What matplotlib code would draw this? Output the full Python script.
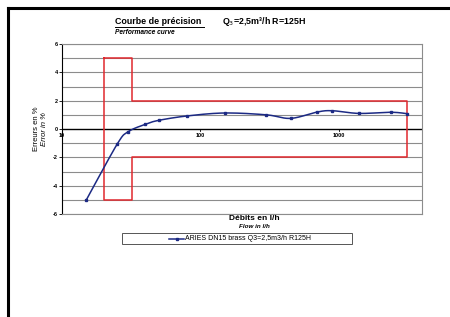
import numpy as np
import matplotlib
matplotlib.use("Agg")
import matplotlib.pyplot as plt
from matplotlib.lines import Line2D
from matplotlib.patches import Rectangle

plt.rcParams['font.family'] = ['Liberation Sans', 'DejaVu Sans']

# Data
flow = [15, 25, 30, 40, 50, 80, 150, 300, 450, 700, 900, 1400, 2400, 3125]
error = [-5.0, -1.08, -0.2, 0.33, 0.61, 0.92, 1.13, 1.0, 0.75, 1.2, 1.29, 1.1, 1.18, 1.08]
limit_x = [20, 32, 32, 3125, 3125, 32, 32, 20, 20]
limit_y = [5, 5, 2, 2, -2, -2, -5, -5, 5]
yticks = [-6, -4, -2, 0, 2, 4, 6]
xtick_vals = [10, 100, 1000]
series_label = "ARIES DN15 brass Q3=2,5m3/h R125H"

W, H = 450, 317
fig = plt.figure(figsize=(4.5, 3.17), dpi=100)

def fx(px):
    return px / W

def fy(py):
    return 1 - py / H

# outer frame
fig.add_artist(Line2D([fx(8), fx(8)], [0, fy(8)], transform=fig.transFigure, color='black', lw=2.2))
fig.add_artist(Line2D([fx(8), 1], [fy(8), fy(8)], transform=fig.transFigure, color='black', lw=2.2))

ax = fig.add_axes([fx(62), fy(214), 360 / W, 170 / H])
ax.set_xscale('log')
ax.set_xlim(10, 4000)
ax.set_ylim(-6, 6)

for y in range(-6, 7):
    if y != 0:
        ax.axhline(y, color='#8c8c8c', lw=0.8, zorder=1)
ax.axhline(0, color='black', lw=1.0, zorder=2)

for s in ax.spines.values():
    s.set_color('#8c8c8c')
    s.set_linewidth(0.8)
ax.spines['left'].set_color('black')

ax.set_yticks(yticks)
ax.set_yticklabels([str(v) for v in yticks], fontsize=4, fontweight='bold')
ax.tick_params(axis='y', length=2, width=0.6, pad=1)
ax.set_xticks([])
ax.xaxis.set_minor_locator(matplotlib.ticker.NullLocator())
for xv in xtick_vals:
    ax.plot([xv, xv], [0, -0.12], color='black', lw=0.6, zorder=3)
    ax.text(xv, -0.28, str(xv), ha='center', va='top', fontsize=4, fontweight='bold')

# limits
ax.plot(limit_x, limit_y, color='#e0282e', lw=1.1, zorder=4)

# smooth curve (Catmull-Rom computed in screen-proportional space)
sx = 138.0   # px per decade
sy = 170.0 / 12.0  # px per unit
P = np.column_stack([np.log10(flow) * sx, np.array(error) * sy])
P_ext = np.vstack([P[0], P, P[-1]])
curve = []
for i in range(1, len(P_ext) - 2):
    p0, p1, p2, p3 = P_ext[i - 1], P_ext[i], P_ext[i + 1], P_ext[i + 2]
    c1 = p1 + (p2 - p0) / 6.0
    c2 = p2 - (p3 - p1) / 6.0
    t = np.linspace(0, 1, 25)[:, None]
    seg = (1 - t)**3 * p1 + 3 * (1 - t)**2 * t * c1 + 3 * (1 - t) * t**2 * c2 + t**3 * p2
    curve.append(seg)
curve = np.vstack(curve)
ax.plot(10**(curve[:, 0] / sx), curve[:, 1] / sy, color='#1c2a84', lw=1.1, zorder=5)
ax.plot(flow, error, linestyle='none', marker='s', ms=1.8, color='#1c2a84', zorder=6)

# titles
fig.text(fx(115), fy(22), "Courbe de précision", fontsize=6.4, fontweight='bold', va='center', ha='left')
fig.add_artist(Line2D([fx(115), fx(204)], [fy(27), fy(27)], transform=fig.transFigure, color='black', lw=0.7))
fig.text(fx(222), fy(22), "Q$_3$=2,5m³/h R=125H", fontsize=6.4, fontweight='bold', va='center', ha='left')
fig.text(fx(115), fy(33), "Performance curve", fontsize=4.8, fontweight='bold', style='italic', va='center', ha='left')

fig.text(fx(36), fy(129), "Erreurs en %", fontsize=5.5, rotation=90, va='center', ha='center')
fig.text(fx(44), fy(129), "Error in %", fontsize=5.5, style='italic', rotation=90, va='center', ha='center')

fig.text(fx(254), fy(218), "Débits en l/h", fontsize=6, fontweight='bold', va='center', ha='center')
fig.text(fx(254), fy(226), "Flow in l/h", fontsize=4.5, fontweight='bold', style='italic', va='center', ha='center')

# legend (manual box)
fig.add_artist(Rectangle((fx(122), fy(244)), 230 / W, 11 / H, transform=fig.transFigure,
                         fill=False, edgecolor='#555555', lw=0.7))
fig.add_artist(Line2D([fx(169), fx(184)], [fy(238.5), fy(238.5)], transform=fig.transFigure,
                      color='#1c2a84', lw=1.1))
fig.add_artist(Line2D([fx(176.5)], [fy(238.5)], transform=fig.transFigure, color='#1c2a84',
                      marker='s', ms=1.8, linestyle='none'))
fig.text(fx(185), fy(238.5), series_label, fontsize=5, va='center', ha='left')

fig.savefig("out.png", dpi=100)
